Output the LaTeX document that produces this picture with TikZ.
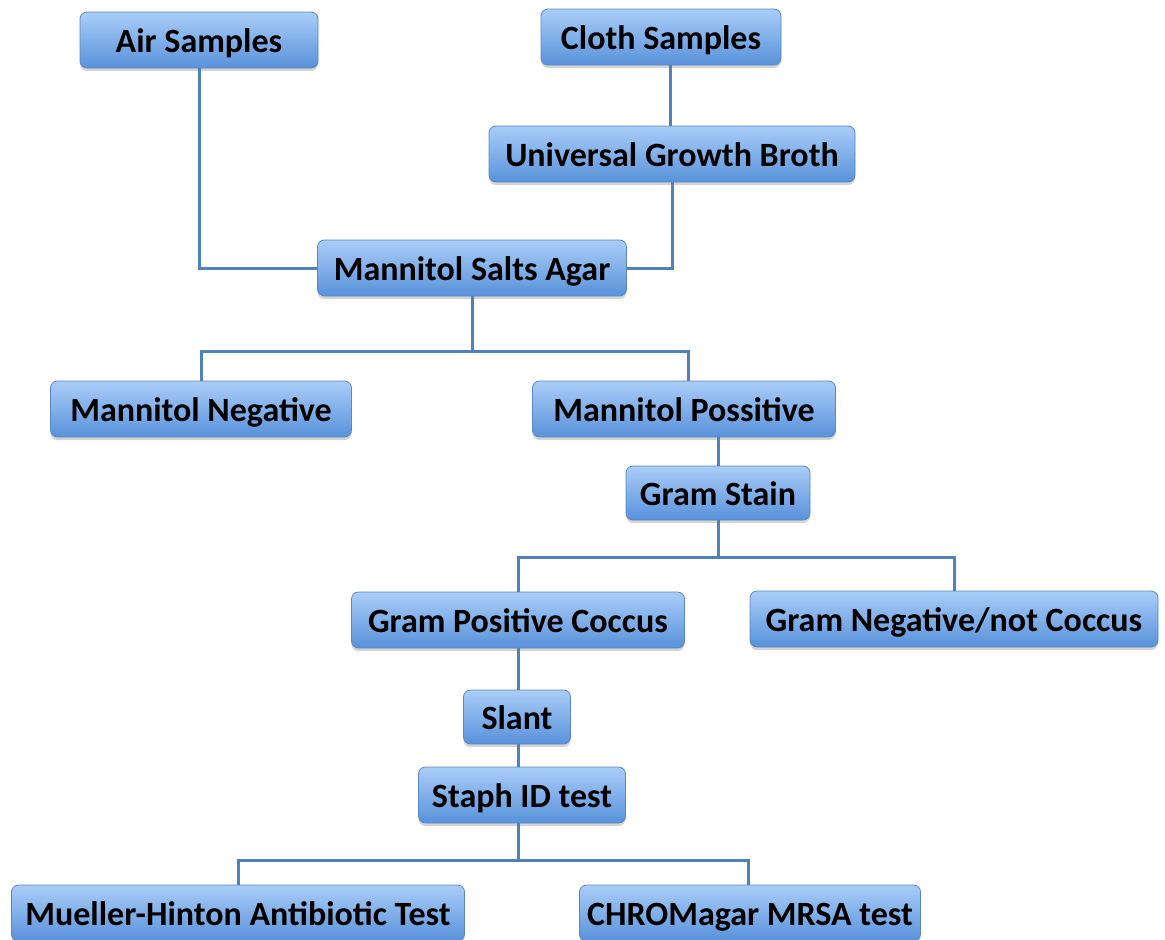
\documentclass[tikz,border=0pt]{standalone}
\usepackage{fontspec}
\setmainfont{Carlito}
\usetikzlibrary{shadows}
\definecolor{boxtop}{RGB}{170,205,248}
\definecolor{boxbot}{RGB}{88,146,218}
\definecolor{boxline}{RGB}{90,135,195}
\definecolor{conn}{RGB}{79,129,189}
\begin{document}
\begin{tikzpicture}[x=1pt,y=-1pt,
  box/.style={draw=boxline, line width=0.8pt, rounded corners=7pt,
    top color=boxtop, bottom color=boxbot, minimum height=56pt,
    font=\fontsize{34}{38}\selectfont\bfseries, text=black, inner sep=0pt,
    text height=26pt, text depth=2pt,
    drop shadow={shadow xshift=0pt, shadow yshift=-3pt, opacity=0.35}},
  link/.style={draw=conn, line width=3pt}]
\useasboundingbox (0,0) rectangle (1165,940);
\node[box, minimum width=238pt] (air) at (199,40) {Air Samples};
\node[box, minimum width=240pt] (cloth) at (661,37) {Cloth Samples};
\node[box, minimum width=366pt] (ugb) at (672,154) {Universal Growth Broth};
\node[box, minimum width=309pt] (msa) at (472,268) {Mannitol Salts Agar};
\node[box, minimum width=301pt] (mneg) at (201,409) {Mannitol Negative};
\node[box, minimum width=303pt] (mpos) at (684,409) {Mannitol Possitive};
\node[box, minimum width=184pt, minimum height=54pt] (gs) at (718,493) {Gram Stain};
\node[box, minimum width=333pt] (gpc) at (518,620) {Gram Positive Coccus};
\node[box, minimum width=408pt] (gn) at (954,619) {Gram Negative/not Coccus};
\node[box, minimum width=107pt, minimum height=54pt] (slant) at (517,717) {Slant};
\node[box, minimum width=207pt] (staph) at (522,795) {Staph ID test};
\node[box, minimum width=453pt] (mh) at (238,913) {Mueller-Hinton Antibiotic Test};
\node[box, minimum width=341pt] (chrom) at (750,913) {CHROMagar MRSA test};
\draw[link] (air.south) |- (msa.west);
\draw[link] (670,0|-cloth.south) coordinate (c1) -- (c1|-ugb.north);
\draw[link] (ugb.south) |- (msa.east);
\coordinate (j1) at (472,351);
\draw[link] (msa.south) -- (j1);
\draw[link] (mneg.north) |- (j1) -| (688,0|-mpos.north);
\draw[link] (718,0|-mpos.south) -- (gs.north);
\coordinate (j2) at (718,557);
\draw[link] (gs.south) -- (j2);
\draw[link] (gpc.north) |- (j2) -| (gn.north);
\draw[link] (gpc.south) -- (518,0|-slant.north);
\draw[link] (518,0|-slant.south) -- (518,0|-staph.north);
\coordinate (j3) at (518,860);
\draw[link] (518,0|-staph.south) -- (j3);
\draw[link] (mh.north) |- (j3) -| (748,0|-chrom.north);
\end{tikzpicture}
\end{document}
